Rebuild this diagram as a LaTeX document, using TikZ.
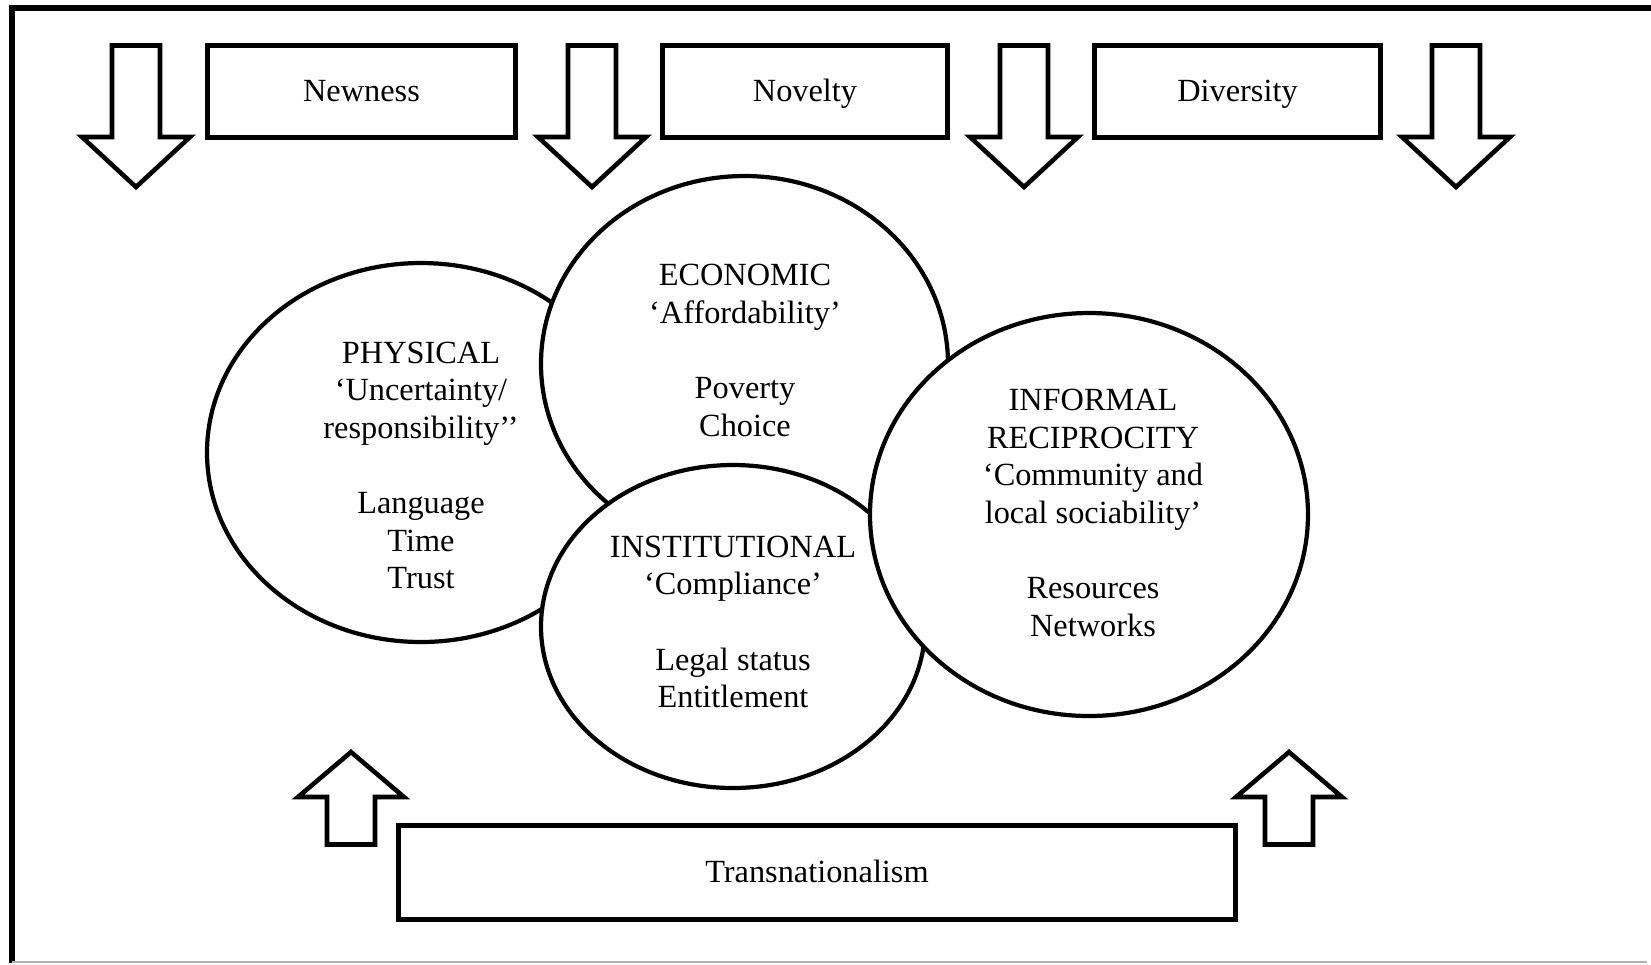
\documentclass[tikz,border=0pt]{standalone}
\usepackage{fontspec}
\setmainfont{Liberation Serif}
\usepackage{tikz}
\usetikzlibrary{shapes}

\begin{document}
\begin{tikzpicture}[scale=0.1, line width=1.3pt]
\tikzstyle{every node}+=[inner sep=0pt, align=center, font=\fontsize{9.2}{10.7}\selectfont]
\tikzstyle{boxtext}=[text height=1.6ex, text depth=0.5ex]
\useasboundingbox (0,0) rectangle (165.1,-96.4);
% frame
\draw [black, line width=1.8pt] (1.2,-96.3) -- (1.2,-0.8) -- (165.1,-0.8);
\draw [black!30, line width=0.4pt] (1.2,-96.2) -- (164.7,-96.2);
% top row
\draw [black] (11.2,-4.55) -- (16.0,-4.55) -- (16.0,-13.7) -- (19.0,-13.7) -- (13.6,-18.7) -- (8.2,-13.7) -- (11.2,-13.7) -- cycle;
\draw [black] (20.75,-4.55) rectangle (51.55,-13.75);
\draw (36.15,-9.3) node[boxtext] (newness) {Newness};
\draw [black] (56.8,-4.55) -- (61.6,-4.55) -- (61.6,-13.7) -- (64.6,-13.7) -- (59.2,-18.7) -- (53.8,-13.7) -- (56.8,-13.7) -- cycle;
\draw [black] (66.25,-4.55) rectangle (94.75,-13.75);
\draw (80.5,-9.3) node[boxtext] (novelty) {Novelty};
\draw [black] (100.0,-4.55) -- (104.8,-4.55) -- (104.8,-13.7) -- (107.8,-13.7) -- (102.4,-18.7) -- (97.0,-13.7) -- (100.0,-13.7) -- cycle;
\draw [black] (109.45,-4.55) rectangle (138.05,-13.75);
\draw (123.75,-9.3) node[boxtext] (diversity) {Diversity};
\draw [black] (143.2,-4.55) -- (148.0,-4.55) -- (148.0,-13.7) -- (151.0,-13.7) -- (145.6,-18.7) -- (140.2,-13.7) -- (143.2,-13.7) -- cycle;
% dimensions
\draw [black, line width=1.2pt, fill=white] (42.1,-45.25) ellipse (21.4 and 18.95);
\draw (42.1,-46.55) node (physical) {PHYSICAL\\‘Uncertainty/\\responsibility’’\\[10.7pt]Language\\Time\\Trust};
\draw [black, line width=1.2pt, fill=white] (74.45,-36.4) ellipse (20.35 and 18.8);
\draw (74.5,-35.05) node (economic) {ECONOMIC\\‘Affordability’\\[10.7pt]Poverty\\Choice};
\draw [black, line width=1.2pt, fill=white] (73.3,-62.65) ellipse (19.2 and 16.15);
\draw (73.3,-62.2) node (institutional) {INSTITUTIONAL\\‘Compliance’\\[10.7pt]Legal status\\Entitlement};
\draw [black, line width=1.2pt, fill=white] (108.9,-51.45) ellipse (21.9 and 20.15);
\draw (109.3,-51.3) node (informal) {INFORMAL\\RECIPROCITY\\‘Community and\\local sociability’\\[10.7pt]Resources\\Networks};
% bottom row
\draw [black] (32.7,-84.45) -- (37.5,-84.45) -- (37.5,-79.7) -- (40.4,-79.7) -- (35.1,-75.2) -- (29.8,-79.7) -- (32.7,-79.7) -- cycle;
\draw [black] (39.85,-82.55) rectangle (123.55,-91.95);
\draw (81.7,-87.4) node[boxtext] (transnat) {Transnationalism};
\draw [black] (126.5,-84.45) -- (131.3,-84.45) -- (131.3,-79.7) -- (134.2,-79.7) -- (128.9,-75.2) -- (123.6,-79.7) -- (126.5,-79.7) -- cycle;
\end{tikzpicture}
\end{document}
